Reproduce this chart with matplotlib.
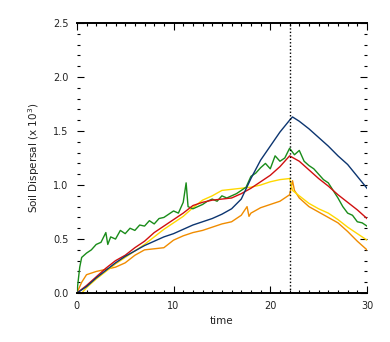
import matplotlib
matplotlib.use("Agg")
import matplotlib.pyplot as plt
from matplotlib.ticker import MultipleLocator

# ---- data ----
t_blue = [0, 1, 2, 3, 4, 5, 6, 7, 8, 9, 10, 11, 12, 13, 14, 15, 16, 17, 18, 19, 20, 21, 22, 22.3, 23, 24, 25, 26, 27, 28, 29, 30]
blue = [0.0, 0.06, 0.14, 0.21, 0.28, 0.34, 0.39, 0.44, 0.48, 0.52, 0.55, 0.59, 0.63, 0.66, 0.69, 0.73, 0.78, 0.87, 1.06, 1.23, 1.36, 1.49, 1.60, 1.63, 1.59, 1.52, 1.44, 1.36, 1.27, 1.19, 1.08, 0.97]

t_red = [0, 1, 2, 3, 4, 5, 6, 7, 8, 9, 10, 11, 12, 13, 14, 15, 16, 17, 18, 19, 20, 21, 22, 23, 24, 25, 26, 27, 28, 29, 30]
red = [0.0, 0.07, 0.15, 0.23, 0.30, 0.35, 0.42, 0.48, 0.56, 0.62, 0.68, 0.74, 0.81, 0.84, 0.86, 0.87, 0.88, 0.92, 0.97, 1.03, 1.09, 1.17, 1.27, 1.22, 1.14, 1.06, 0.99, 0.91, 0.84, 0.77, 0.69]

t_yellow = [0, 0.5, 1, 2, 3, 4, 5, 6, 7, 8, 9, 10, 11, 12, 13, 14, 15, 16, 17, 18, 19, 20, 21, 22, 22.3, 23, 24, 25, 26, 27, 28, 29, 30]
yellow = [0.0, 0.0, 0.05, 0.13, 0.20, 0.27, 0.33, 0.39, 0.45, 0.52, 0.59, 0.65, 0.71, 0.79, 0.86, 0.90, 0.95, 0.96, 0.97, 0.98, 1.00, 1.03, 1.05, 1.06, 0.95, 0.90, 0.83, 0.78, 0.74, 0.68, 0.61, 0.55, 0.49]

t_orange = [0, 0.5, 1, 2, 3, 4, 5, 6, 7, 8, 9, 10, 11, 12, 13, 14, 15, 16, 17, 17.6, 17.8, 18, 19, 20, 21, 22, 22.3, 22.5, 23, 24, 25, 26, 27, 28, 29, 30]
orange = [0.0, 0.10, 0.17, 0.20, 0.22, 0.24, 0.28, 0.35, 0.40, 0.41, 0.42, 0.49, 0.53, 0.56, 0.58, 0.61, 0.64, 0.66, 0.72, 0.80, 0.71, 0.74, 0.79, 0.82, 0.85, 0.91, 1.04, 0.95, 0.88, 0.80, 0.75, 0.70, 0.65, 0.57, 0.48, 0.40]

t_green = [0, 0.3, 0.5, 1, 1.5, 2, 2.5, 3, 3.2, 3.5, 4, 4.5, 5, 5.5, 6, 6.5, 7, 7.5, 8, 8.5, 9, 9.5, 10, 10.5, 11, 11.3, 11.5, 12, 12.5, 13, 13.5, 14, 14.5, 15, 15.5, 16, 16.5, 17, 17.5, 18, 18.5, 19, 19.5, 20, 20.5, 21, 21.5, 22, 22.5, 23, 23.5, 24, 24.5, 25, 25.5, 26, 26.5, 27, 27.5, 28, 28.5, 29, 29.5, 30]
green = [0.0, 0.24, 0.33, 0.37, 0.40, 0.45, 0.47, 0.56, 0.45, 0.52, 0.50, 0.58, 0.55, 0.60, 0.58, 0.63, 0.62, 0.67, 0.64, 0.69, 0.70, 0.73, 0.76, 0.74, 0.84, 1.02, 0.80, 0.78, 0.80, 0.82, 0.85, 0.87, 0.85, 0.90, 0.88, 0.90, 0.92, 0.95, 0.98, 1.08, 1.11, 1.16, 1.20, 1.15, 1.27, 1.22, 1.25, 1.34, 1.28, 1.32, 1.22, 1.18, 1.15, 1.10, 1.05, 1.02, 0.95, 0.88, 0.80, 0.74, 0.72, 0.66, 0.65, 0.62]

event_time = 22
xticks = [0, 10, 20, 30]
yticks = [0.0, 0.5, 1.0, 1.5, 2.0, 2.5]

# ---- figure ----
fig = plt.figure(figsize=(3.9, 3.42), dpi=100)
ax = fig.add_axes([0.197, 0.143, 0.744, 0.79])

lw = 1.0
ax.plot(t_orange, orange, color="#f08c00", lw=lw)
ax.plot(t_yellow, yellow, color="#ffd800", lw=lw)
ax.plot(t_green, green, color="#1a8c1a", lw=lw)
ax.plot(t_red, red, color="#d01010", lw=lw)
ax.plot(t_blue, blue, color="#0c3570", lw=lw)

ax.axvline(event_time, color="black", ls=(0, (1, 1.5)), lw=1.0)

ax.set_xlim(0, 30)
ax.set_ylim(0, 2.5)
ax.set_xticks(xticks)
ax.set_yticks(yticks)
ax.set_xticklabels([str(v) for v in xticks])
ax.set_yticklabels([f"{v:.1f}" for v in yticks])
ax.xaxis.set_minor_locator(MultipleLocator(1))
ax.yaxis.set_minor_locator(MultipleLocator(0.1))

ax.tick_params(which="both", direction="in", top=True, right=True,
               colors="black", labelcolor="#222222", labelsize=7, width=0.8)
ax.tick_params(which="major", length=5, pad=6)
ax.tick_params(which="minor", length=2.5)

ax.spines["left"].set_visible(False)
ax.spines["right"].set_visible(False)
ax.spines["top"].set_linewidth(1.4)
ax.spines["bottom"].set_linewidth(1.4)

ax.set_xlabel("time", fontsize=7.5, color="#222222", labelpad=3)
ax.set_ylabel("Soil Dispersal (x 10$^3$)", fontsize=7.5, color="#222222", labelpad=8)

fig.savefig("out.png", dpi=100)
